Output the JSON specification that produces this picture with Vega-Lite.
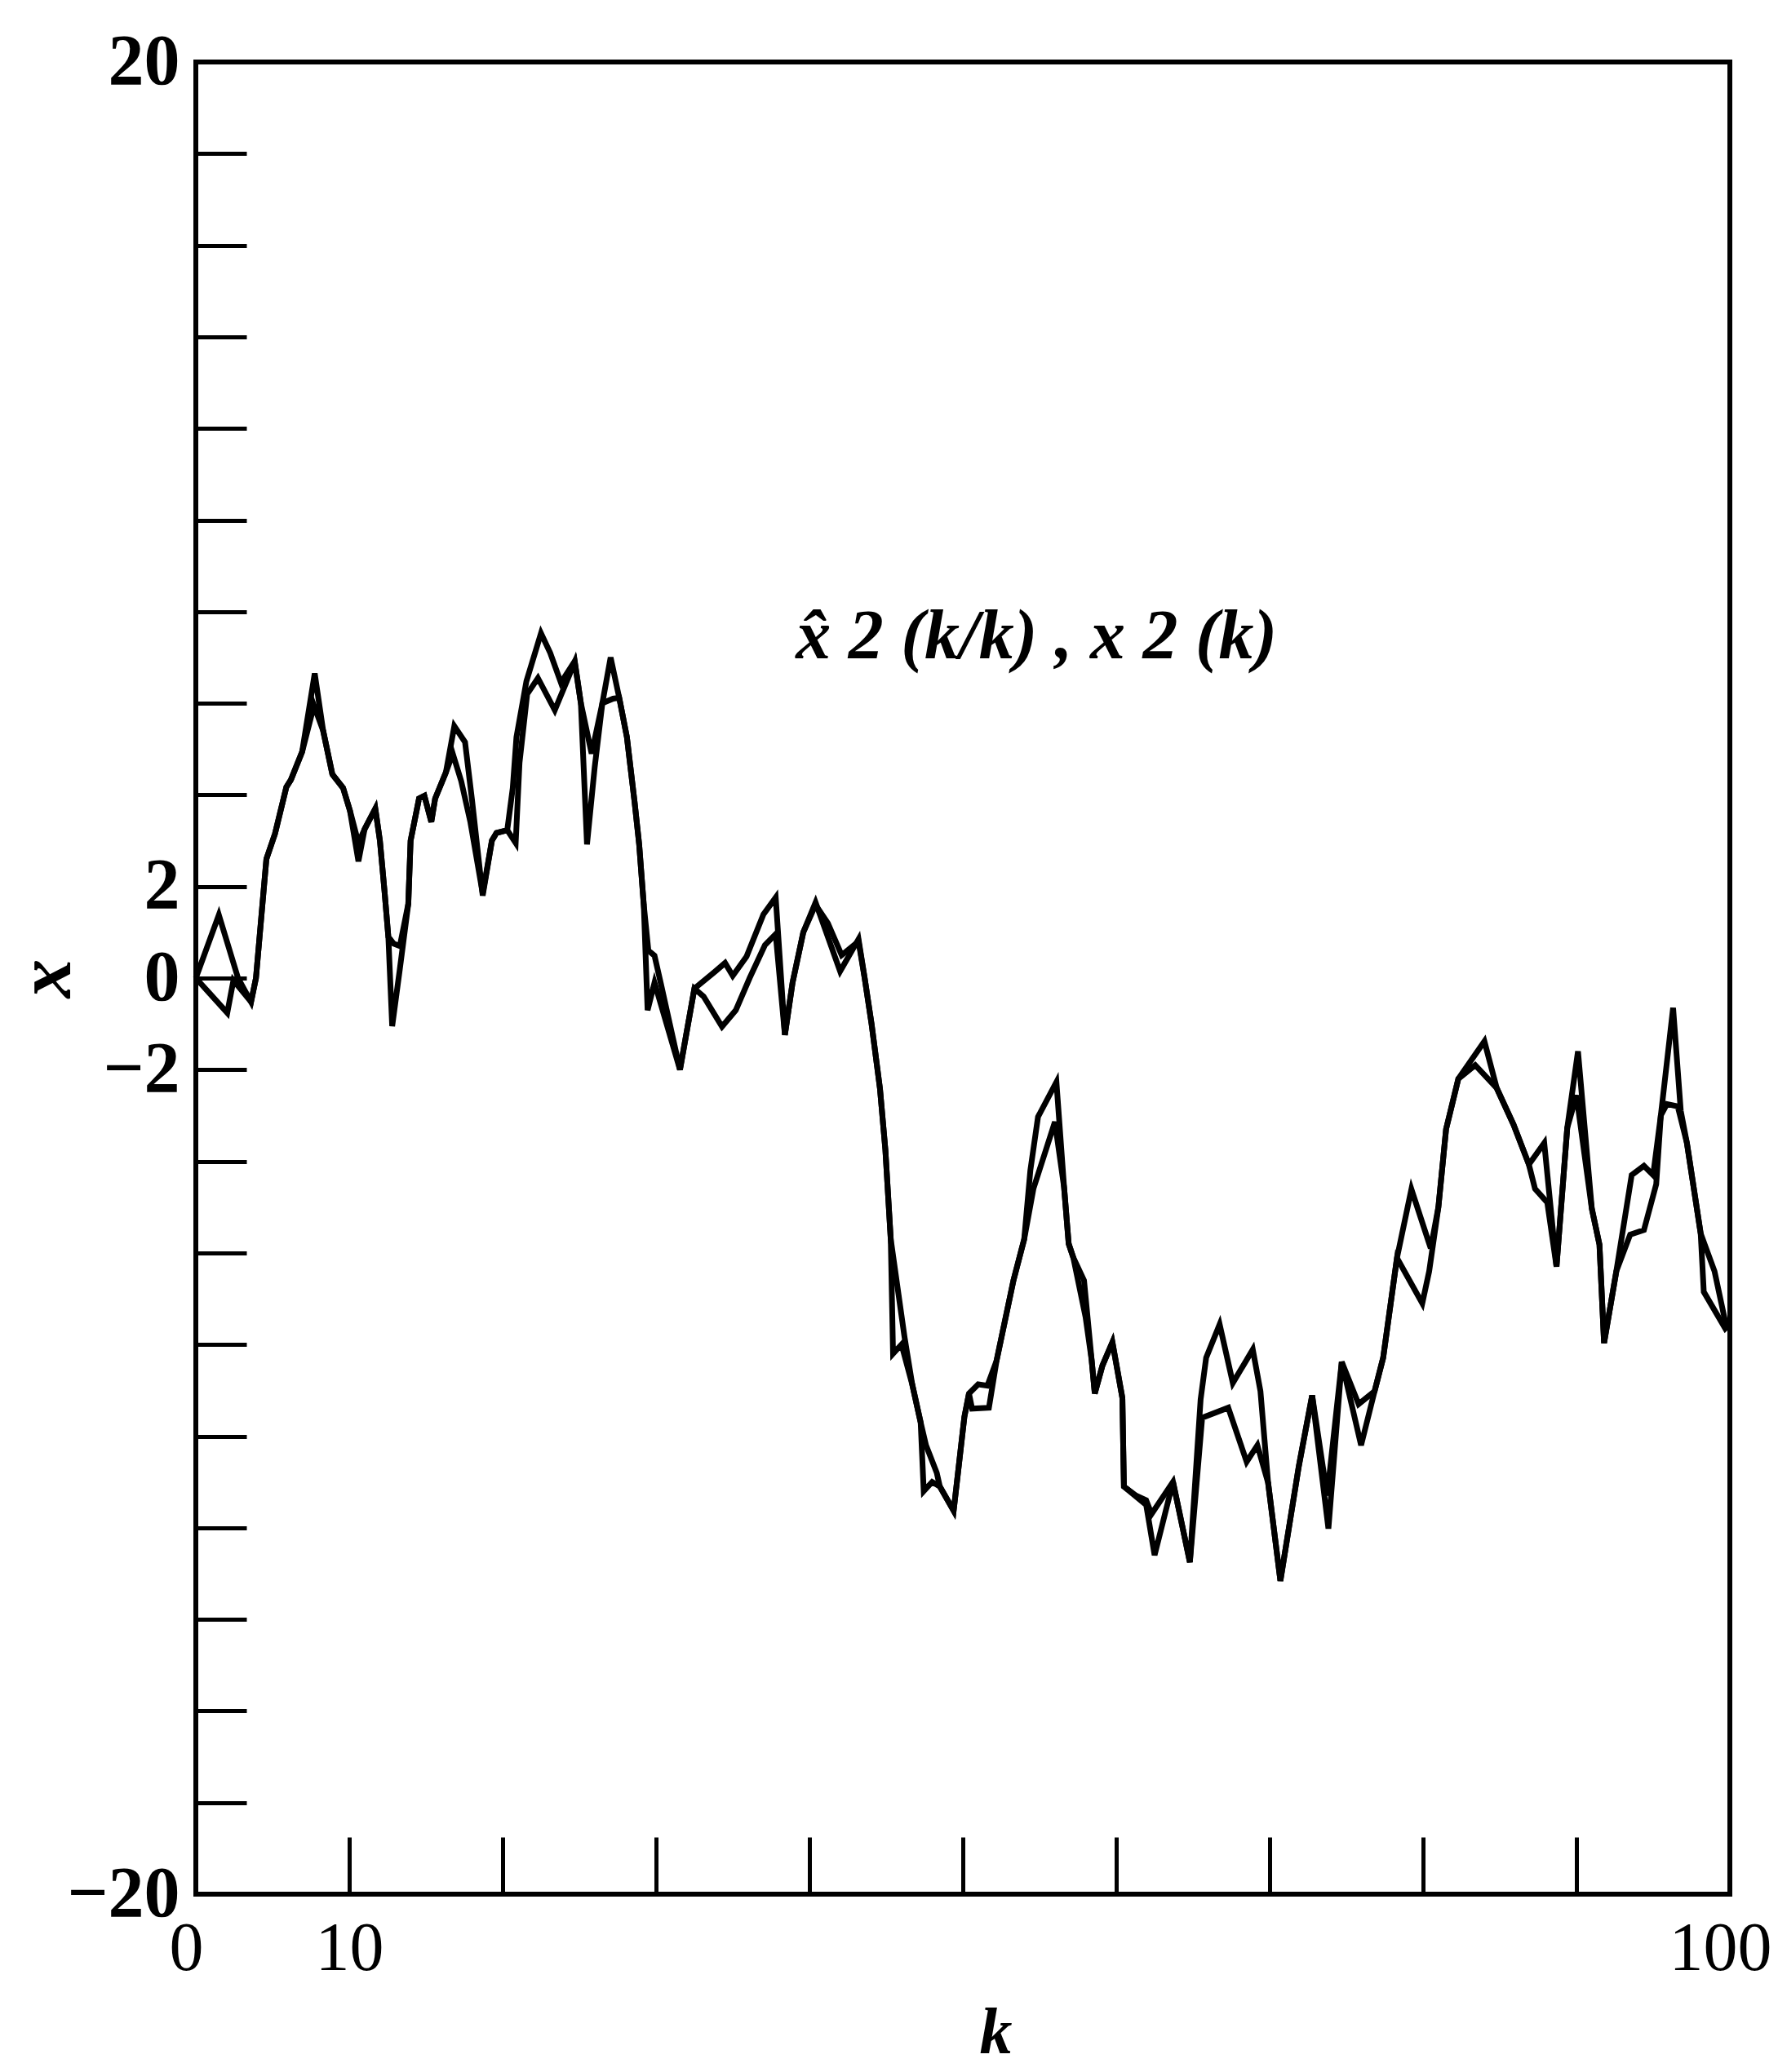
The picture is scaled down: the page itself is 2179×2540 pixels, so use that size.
{
  "$schema": "https://vega.github.io/schema/vega-lite/v6.json",
  "width": 1880,
  "height": 2246,
  "autosize": {"type": "none"},
  "padding": {"left": 240, "top": 76, "right": 59, "bottom": 218},
  "background": "white",
  "config": {
    "view": {"stroke": "black", "strokeWidth": 6},
    "axis": {"grid": false, "domain": false, "tickColor": "black", "labelColor": "black", "titleColor": "black", "labelOverlap": false, "labelFlush": false}
  },
  "datasets": {
    "labels": [
      {"label": "x̂ 2 (k/k) , x 2 (k)", "k": 54.8, "v": 7.45}
    ],
    "curves": [
      {"series": "x2", "k": 0, "v": 0},
      {"series": "x2", "k": 1.5, "v": 1.38},
      {"series": "x2", "k": 2.75, "v": 0.0},
      {"series": "x2", "k": 3.6, "v": -0.52},
      {"series": "x2", "k": 3.92, "v": 0.0},
      {"series": "x2", "k": 4.6, "v": 2.6},
      {"series": "x2", "k": 5.16, "v": 3.15},
      {"series": "x2", "k": 5.9, "v": 4.17},
      {"series": "x2", "k": 6.2, "v": 4.33},
      {"series": "x2", "k": 6.93, "v": 4.94},
      {"series": "x2", "k": 7.75, "v": 6.65},
      {"series": "x2", "k": 8.3, "v": 5.4},
      {"series": "x2", "k": 8.9, "v": 4.45},
      {"series": "x2", "k": 9.6, "v": 4.15},
      {"series": "x2", "k": 10.05, "v": 3.65},
      {"series": "x2", "k": 10.6, "v": 2.55},
      {"series": "x2", "k": 11.0, "v": 3.25},
      {"series": "x2", "k": 11.7, "v": 3.7},
      {"series": "x2", "k": 12.0, "v": 3.0},
      {"series": "x2", "k": 12.3, "v": 1.9},
      {"series": "x2", "k": 12.55, "v": 0.9},
      {"series": "x2", "k": 12.8, "v": -1.05},
      {"series": "x2", "k": 13.3, "v": 0.2},
      {"series": "x2", "k": 13.85, "v": 1.62},
      {"series": "x2", "k": 14.0, "v": 3.0},
      {"series": "x2", "k": 14.55, "v": 3.92},
      {"series": "x2", "k": 14.9, "v": 3.98},
      {"series": "x2", "k": 15.35, "v": 3.41},
      {"series": "x2", "k": 15.6, "v": 3.92},
      {"series": "x2", "k": 16.3, "v": 4.49},
      {"series": "x2", "k": 16.85, "v": 5.5},
      {"series": "x2", "k": 17.55, "v": 5.15},
      {"series": "x2", "k": 18.0, "v": 3.9},
      {"series": "x2", "k": 18.7, "v": 1.8},
      {"series": "x2", "k": 19.3, "v": 3.0},
      {"series": "x2", "k": 19.6, "v": 3.17},
      {"series": "x2", "k": 20.3, "v": 3.23},
      {"series": "x2", "k": 20.66, "v": 4.15},
      {"series": "x2", "k": 20.9, "v": 5.26},
      {"series": "x2", "k": 21.55, "v": 6.48},
      {"series": "x2", "k": 22.5, "v": 7.53},
      {"series": "x2", "k": 23.1, "v": 7.1},
      {"series": "x2", "k": 23.8, "v": 6.45},
      {"series": "x2", "k": 24.7, "v": 6.92},
      {"series": "x2", "k": 25.1, "v": 6.0},
      {"series": "x2", "k": 25.5, "v": 2.92},
      {"series": "x2", "k": 26.0, "v": 4.6},
      {"series": "x2", "k": 26.5, "v": 6.0},
      {"series": "x2", "k": 27.04, "v": 7.0},
      {"series": "x2", "k": 27.6, "v": 6.12},
      {"series": "x2", "k": 28.1, "v": 5.26},
      {"series": "x2", "k": 28.6, "v": 3.85},
      {"series": "x2", "k": 28.9, "v": 2.92},
      {"series": "x2", "k": 29.2, "v": 1.6},
      {"series": "x2", "k": 29.45, "v": -0.7},
      {"series": "x2", "k": 29.9, "v": -0.1},
      {"series": "x2", "k": 31.56, "v": -2.0},
      {"series": "x2", "k": 32.5, "v": -0.23},
      {"series": "x2", "k": 33.8, "v": 0.13},
      {"series": "x2", "k": 34.5, "v": 0.33},
      {"series": "x2", "k": 35.0, "v": 0.05},
      {"series": "x2", "k": 35.9, "v": 0.47},
      {"series": "x2", "k": 37.0, "v": 1.39},
      {"series": "x2", "k": 37.8, "v": 1.76},
      {"series": "x2", "k": 38.4, "v": -1.24},
      {"series": "x2", "k": 38.9, "v": -0.1},
      {"series": "x2", "k": 39.6, "v": 1.0},
      {"series": "x2", "k": 40.4, "v": 1.65},
      {"series": "x2", "k": 42.0, "v": 0.15},
      {"series": "x2", "k": 43.2, "v": 0.85},
      {"series": "x2", "k": 43.6, "v": 0.0},
      {"series": "x2", "k": 44.05, "v": -1.0},
      {"series": "x2", "k": 44.6, "v": -2.42},
      {"series": "x2", "k": 44.95, "v": -3.75},
      {"series": "x2", "k": 45.3, "v": -5.7},
      {"series": "x2", "k": 45.45, "v": -8.2},
      {"series": "x2", "k": 46.0, "v": -8.0},
      {"series": "x2", "k": 46.7, "v": -8.87},
      {"series": "x2", "k": 47.25, "v": -9.7},
      {"series": "x2", "k": 47.45, "v": -11.2},
      {"series": "x2", "k": 48.0, "v": -11.0},
      {"series": "x2", "k": 48.5, "v": -11.1},
      {"series": "x2", "k": 49.4, "v": -11.63},
      {"series": "x2", "k": 50.1, "v": -9.58},
      {"series": "x2", "k": 50.4, "v": -9.07},
      {"series": "x2", "k": 51.0, "v": -8.87},
      {"series": "x2", "k": 51.6, "v": -8.9},
      {"series": "x2", "k": 52.2, "v": -8.35},
      {"series": "x2", "k": 53.3, "v": -6.6},
      {"series": "x2", "k": 54.0, "v": -5.7},
      {"series": "x2", "k": 54.4, "v": -4.2},
      {"series": "x2", "k": 54.9, "v": -3.03},
      {"series": "x2", "k": 56.1, "v": -2.27},
      {"series": "x2", "k": 56.6, "v": -4.57},
      {"series": "x2", "k": 56.9, "v": -5.8},
      {"series": "x2", "k": 57.2, "v": -6.1},
      {"series": "x2", "k": 57.9, "v": -6.6},
      {"series": "x2", "k": 58.4, "v": -8.35},
      {"series": "x2", "k": 58.6, "v": -9.07},
      {"series": "x2", "k": 59.1, "v": -8.46},
      {"series": "x2", "k": 59.75, "v": -7.95},
      {"series": "x2", "k": 60.4, "v": -9.17},
      {"series": "x2", "k": 60.5, "v": -11.1},
      {"series": "x2", "k": 61.95, "v": -11.5},
      {"series": "x2", "k": 62.5, "v": -12.6},
      {"series": "x2", "k": 63.7, "v": -11.0},
      {"series": "x2", "k": 64.8, "v": -12.75},
      {"series": "x2", "k": 65.5, "v": -9.2},
      {"series": "x2", "k": 65.86, "v": -8.29},
      {"series": "x2", "k": 66.74, "v": -7.56},
      {"series": "x2", "k": 67.6, "v": -8.84},
      {"series": "x2", "k": 68.9, "v": -8.11},
      {"series": "x2", "k": 69.4, "v": -9.02},
      {"series": "x2", "k": 69.9, "v": -11.02},
      {"series": "x2", "k": 70.7, "v": -13.16},
      {"series": "x2", "k": 71.9, "v": -10.66},
      {"series": "x2", "k": 72.77, "v": -9.11},
      {"series": "x2", "k": 73.83, "v": -12.02},
      {"series": "x2", "k": 74.7, "v": -8.38},
      {"series": "x2", "k": 75.96, "v": -10.2},
      {"series": "x2", "k": 76.84, "v": -9.02},
      {"series": "x2", "k": 77.4, "v": -8.29},
      {"series": "x2", "k": 78.3, "v": -6.11},
      {"series": "x2", "k": 79.24, "v": -4.61},
      {"series": "x2", "k": 80.5, "v": -5.9},
      {"series": "x2", "k": 81.0, "v": -5.0},
      {"series": "x2", "k": 81.5, "v": -3.3},
      {"series": "x2", "k": 82.3, "v": -2.2},
      {"series": "x2", "k": 84.0, "v": -1.38},
      {"series": "x2", "k": 84.8, "v": -2.4},
      {"series": "x2", "k": 85.9, "v": -3.2},
      {"series": "x2", "k": 86.9, "v": -4.07},
      {"series": "x2", "k": 87.9, "v": -3.6},
      {"series": "x2", "k": 88.7, "v": -6.3},
      {"series": "x2", "k": 89.4, "v": -3.27},
      {"series": "x2", "k": 90.1, "v": -1.6},
      {"series": "x2", "k": 91.0, "v": -5.03},
      {"series": "x2", "k": 91.5, "v": -5.82},
      {"series": "x2", "k": 91.8, "v": -7.97},
      {"series": "x2", "k": 92.6, "v": -6.4},
      {"series": "x2", "k": 93.6, "v": -4.3},
      {"series": "x2", "k": 94.4, "v": -4.1},
      {"series": "x2", "k": 95.0, "v": -4.3},
      {"series": "x2", "k": 95.5, "v": -3.0},
      {"series": "x2", "k": 96.3, "v": -0.65},
      {"series": "x2", "k": 96.8, "v": -2.9},
      {"series": "x2", "k": 97.2, "v": -3.6},
      {"series": "x2", "k": 98.1, "v": -5.58},
      {"series": "x2", "k": 98.3, "v": -6.85},
      {"series": "x2", "k": 99.7, "v": -7.65},
      {"series": "x2", "k": 100, "v": -7.55},
      {"series": "xhat", "k": 0, "v": 0},
      {"series": "xhat", "k": 2.05, "v": -0.76},
      {"series": "xhat", "k": 2.45, "v": -0.05},
      {"series": "xhat", "k": 3.6, "v": -0.52},
      {"series": "xhat", "k": 3.92, "v": 0.0},
      {"series": "xhat", "k": 4.6, "v": 2.6},
      {"series": "xhat", "k": 5.16, "v": 3.15},
      {"series": "xhat", "k": 5.9, "v": 4.17},
      {"series": "xhat", "k": 6.2, "v": 4.33},
      {"series": "xhat", "k": 6.93, "v": 4.94},
      {"series": "xhat", "k": 7.7, "v": 5.95},
      {"series": "xhat", "k": 8.3, "v": 5.4},
      {"series": "xhat", "k": 8.9, "v": 4.45},
      {"series": "xhat", "k": 9.6, "v": 4.15},
      {"series": "xhat", "k": 10.05, "v": 3.65},
      {"series": "xhat", "k": 10.6, "v": 2.95},
      {"series": "xhat", "k": 11.0, "v": 3.25},
      {"series": "xhat", "k": 11.7, "v": 3.7},
      {"series": "xhat", "k": 12.0, "v": 3.0},
      {"series": "xhat", "k": 12.3, "v": 1.9},
      {"series": "xhat", "k": 12.55, "v": 0.9},
      {"series": "xhat", "k": 12.9, "v": 0.75},
      {"series": "xhat", "k": 13.3, "v": 0.7},
      {"series": "xhat", "k": 13.85, "v": 1.62},
      {"series": "xhat", "k": 14.0, "v": 3.0},
      {"series": "xhat", "k": 14.55, "v": 3.92},
      {"series": "xhat", "k": 14.9, "v": 3.98},
      {"series": "xhat", "k": 15.35, "v": 3.41},
      {"series": "xhat", "k": 15.6, "v": 3.92},
      {"series": "xhat", "k": 16.3, "v": 4.49},
      {"series": "xhat", "k": 16.75, "v": 4.9},
      {"series": "xhat", "k": 17.3, "v": 4.3},
      {"series": "xhat", "k": 17.9, "v": 3.4},
      {"series": "xhat", "k": 18.7, "v": 1.85},
      {"series": "xhat", "k": 19.3, "v": 3.0},
      {"series": "xhat", "k": 19.6, "v": 3.17},
      {"series": "xhat", "k": 20.3, "v": 3.23},
      {"series": "xhat", "k": 20.85, "v": 2.95},
      {"series": "xhat", "k": 21.1, "v": 4.7},
      {"series": "xhat", "k": 21.6, "v": 6.2},
      {"series": "xhat", "k": 22.3, "v": 6.55},
      {"series": "xhat", "k": 23.4, "v": 5.85},
      {"series": "xhat", "k": 24.7, "v": 6.9},
      {"series": "xhat", "k": 25.1, "v": 6.0},
      {"series": "xhat", "k": 25.8, "v": 4.9},
      {"series": "xhat", "k": 26.5, "v": 6.0},
      {"series": "xhat", "k": 27.2, "v": 6.1},
      {"series": "xhat", "k": 27.6, "v": 6.12},
      {"series": "xhat", "k": 28.1, "v": 5.26},
      {"series": "xhat", "k": 28.6, "v": 3.85},
      {"series": "xhat", "k": 28.9, "v": 2.92},
      {"series": "xhat", "k": 29.2, "v": 1.6},
      {"series": "xhat", "k": 29.5, "v": 0.6},
      {"series": "xhat", "k": 29.9, "v": 0.49},
      {"series": "xhat", "k": 30.3, "v": -0.1},
      {"series": "xhat", "k": 31.56, "v": -2.0},
      {"series": "xhat", "k": 32.5, "v": -0.23},
      {"series": "xhat", "k": 33.1, "v": -0.4},
      {"series": "xhat", "k": 34.3, "v": -1.06},
      {"series": "xhat", "k": 35.2, "v": -0.7},
      {"series": "xhat", "k": 36.1, "v": 0.0},
      {"series": "xhat", "k": 37.1, "v": 0.72},
      {"series": "xhat", "k": 37.8, "v": 0.96},
      {"series": "xhat", "k": 38.4, "v": -1.24},
      {"series": "xhat", "k": 38.9, "v": -0.1},
      {"series": "xhat", "k": 39.6, "v": 1.0},
      {"series": "xhat", "k": 40.4, "v": 1.6},
      {"series": "xhat", "k": 41.2, "v": 1.2},
      {"series": "xhat", "k": 42.1, "v": 0.5},
      {"series": "xhat", "k": 43.2, "v": 0.8},
      {"series": "xhat", "k": 43.6, "v": 0.0},
      {"series": "xhat", "k": 44.05, "v": -1.0},
      {"series": "xhat", "k": 44.6, "v": -2.42},
      {"series": "xhat", "k": 44.95, "v": -3.75},
      {"series": "xhat", "k": 45.3, "v": -5.7},
      {"series": "xhat", "k": 46.2, "v": -7.84},
      {"series": "xhat", "k": 46.7, "v": -8.87},
      {"series": "xhat", "k": 47.25, "v": -9.7},
      {"series": "xhat", "k": 47.6, "v": -10.2},
      {"series": "xhat", "k": 48.3, "v": -10.8},
      {"series": "xhat", "k": 48.5, "v": -11.1},
      {"series": "xhat", "k": 49.4, "v": -11.63},
      {"series": "xhat", "k": 50.1, "v": -9.58},
      {"series": "xhat", "k": 50.4, "v": -9.07},
      {"series": "xhat", "k": 50.6, "v": -9.4},
      {"series": "xhat", "k": 51.7, "v": -9.38},
      {"series": "xhat", "k": 52.2, "v": -8.35},
      {"series": "xhat", "k": 53.3, "v": -6.6},
      {"series": "xhat", "k": 54.0, "v": -5.7},
      {"series": "xhat", "k": 54.6, "v": -4.6},
      {"series": "xhat", "k": 56.0, "v": -3.14},
      {"series": "xhat", "k": 56.6, "v": -4.57},
      {"series": "xhat", "k": 56.9, "v": -5.8},
      {"series": "xhat", "k": 57.2, "v": -6.1},
      {"series": "xhat", "k": 58.0, "v": -7.4},
      {"series": "xhat", "k": 58.4, "v": -8.35},
      {"series": "xhat", "k": 58.6, "v": -9.07},
      {"series": "xhat", "k": 59.1, "v": -8.46},
      {"series": "xhat", "k": 59.75, "v": -7.95},
      {"series": "xhat", "k": 60.4, "v": -9.17},
      {"series": "xhat", "k": 60.5, "v": -11.1},
      {"series": "xhat", "k": 61.3, "v": -11.3},
      {"series": "xhat", "k": 61.95, "v": -11.4},
      {"series": "xhat", "k": 62.3, "v": -11.7},
      {"series": "xhat", "k": 63.7, "v": -11.0},
      {"series": "xhat", "k": 64.8, "v": -12.75},
      {"series": "xhat", "k": 65.6, "v": -9.6},
      {"series": "xhat", "k": 67.3, "v": -9.38},
      {"series": "xhat", "k": 68.5, "v": -10.56},
      {"series": "xhat", "k": 69.2, "v": -10.2},
      {"series": "xhat", "k": 69.9, "v": -11.02},
      {"series": "xhat", "k": 70.7, "v": -13.16},
      {"series": "xhat", "k": 71.9, "v": -10.66},
      {"series": "xhat", "k": 72.77, "v": -9.11},
      {"series": "xhat", "k": 73.75, "v": -11.3},
      {"series": "xhat", "k": 74.7, "v": -8.38},
      {"series": "xhat", "k": 75.8, "v": -9.3},
      {"series": "xhat", "k": 76.84, "v": -9.02},
      {"series": "xhat", "k": 77.4, "v": -8.29},
      {"series": "xhat", "k": 78.3, "v": -6.11},
      {"series": "xhat", "k": 79.95, "v": -7.1},
      {"series": "xhat", "k": 80.4, "v": -6.4},
      {"series": "xhat", "k": 81.0, "v": -5.0},
      {"series": "xhat", "k": 81.5, "v": -3.3},
      {"series": "xhat", "k": 82.3, "v": -2.2},
      {"series": "xhat", "k": 83.4, "v": -1.9},
      {"series": "xhat", "k": 84.8, "v": -2.4},
      {"series": "xhat", "k": 85.9, "v": -3.2},
      {"series": "xhat", "k": 86.9, "v": -4.07},
      {"series": "xhat", "k": 87.3, "v": -4.6},
      {"series": "xhat", "k": 88.1, "v": -4.9},
      {"series": "xhat", "k": 88.7, "v": -6.3},
      {"series": "xhat", "k": 89.4, "v": -3.27},
      {"series": "xhat", "k": 90.0, "v": -2.56},
      {"series": "xhat", "k": 91.0, "v": -5.03},
      {"series": "xhat", "k": 91.5, "v": -5.82},
      {"series": "xhat", "k": 91.8, "v": -7.97},
      {"series": "xhat", "k": 92.6, "v": -6.4},
      {"series": "xhat", "k": 93.5, "v": -5.6},
      {"series": "xhat", "k": 94.4, "v": -5.5},
      {"series": "xhat", "k": 95.2, "v": -4.5},
      {"series": "xhat", "k": 95.5, "v": -3.0},
      {"series": "xhat", "k": 95.9, "v": -2.75},
      {"series": "xhat", "k": 96.6, "v": -2.8},
      {"series": "xhat", "k": 97.2, "v": -3.6},
      {"series": "xhat", "k": 98.1, "v": -5.58},
      {"series": "xhat", "k": 99.0, "v": -6.4},
      {"series": "xhat", "k": 99.7, "v": -7.5},
      {"series": "xhat", "k": 100, "v": -7.55}
    ]
  },
  "layer": [
    {
      "data": {"name": "curves"},
      "mark": {"type": "line", "color": "black", "strokeWidth": 7},
      "encoding": {
        "x": {
          "field": "k", "type": "quantitative",
          "scale": {"domain": [0, 100], "nice": false, "zero": false},
          "axis": {
            "values": [0, 10, 20, 30, 40, 50, 60, 70, 80, 90, 100],
            "format": "d",
            "tickSize": -70, "tickWidth": 5,
            "labelExpr": "datum.value == 0 || datum.value == 10 || datum.value == 100 ? datum.label : ''",
            "labelFont": "Liberation Serif", "labelFontSize": 84, "labelPadding": 96, "labelBaseline": "top",
            "labelOffset": {"condition": {"test": "datum.value == 0 || datum.value == 100", "value": -12}, "value": 0},
            "title": "k", "titleFont": "Liberation Serif", "titleFontStyle": "italic", "titleFontWeight": "bold", "titleFontSize": 80,
            "titleX": 980, "titleY": 170, "titleBaseline": "middle", "titleAlign": "center", "titleAngle": 0
          }
        },
        "y": {
          "field": "v", "type": "quantitative",
          "scale": {"domain": [-20, 20], "nice": false, "zero": false},
          "axis": {
            "values": [-20, -18, -16, -14, -12, -10, -8, -6, -4, -2, 0, 2, 4, 6, 8, 10, 12, 14, 16, 18, 20],
            "format": "d",
            "tickSize": -62, "tickWidth": 5,
            "labelExpr": "datum.value == 20 || datum.value == 2 || datum.value == 0 || datum.value == -2 || datum.value == -20 ? datum.label : ''",
            "labelFont": "Liberation Serif", "labelFontSize": 88, "labelFontWeight": "bold", "labelPadding": 82,
            "title": "x", "titleFont": "Liberation Serif", "titleFontStyle": "italic", "titleFontWeight": "bold", "titleFontSize": 95,
            "titleX": -184, "titleY": 1123, "titleBaseline": "middle", "titleAlign": "center", "titleAngle": 270
          }
        },
        "detail": {"field": "series", "type": "nominal"}
      }
    },
    {
      "mark": {"type": "rule", "color": "black", "strokeWidth": 6},
      "encoding": {"y": {"datum": 0}}
    },
    {
      "data": {"name": "labels"},
      "mark": {"type": "text", "font": "Liberation Serif", "fontSize": 86, "fontStyle": "italic", "fontWeight": "bold", "align": "center", "baseline": "middle", "fill": "black"},
      "encoding": {
        "x": {"field": "k", "type": "quantitative"},
        "y": {"field": "v", "type": "quantitative"},
        "text": {"field": "label", "type": "nominal"}
      }
    }
  ]
}
